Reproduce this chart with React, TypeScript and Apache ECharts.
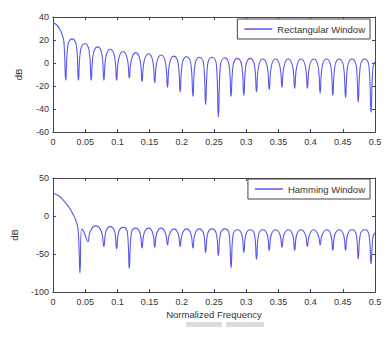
import React, { useEffect, useRef } from "react";
import * as echarts from "echarts";

// Normalized frequency ticks
const xMin = 0;
const xMax = 0.5;
const xStep = 0.05;

// Top panel: rectangular window
const rectFreq = [
  0, 0.005, 0.01, 0.014, 0.017,
  0.0198, 0.0228, 0.0297, 0.0366,
  0.0395, 0.0425, 0.0494, 0.0563,
  0.0593, 0.0623, 0.0692, 0.0761,
  0.079, 0.082, 0.0889, 0.0958,
  0.0988, 0.1018, 0.1087, 0.1156,
  0.1185, 0.1215, 0.1284, 0.1353,
  0.1383, 0.1413, 0.1482, 0.1551,
  0.158, 0.161, 0.1679, 0.1748,
  0.1778, 0.1808, 0.1877, 0.1946,
  0.1975, 0.2005, 0.2074, 0.2143,
  0.2173, 0.2203, 0.2272, 0.2341,
  0.237, 0.24, 0.2469, 0.2538,
  0.2568, 0.2598, 0.2667, 0.2736,
  0.2765, 0.2795, 0.2864, 0.2933,
  0.2963, 0.2993, 0.3062, 0.3131,
  0.316, 0.319, 0.3259, 0.3328,
  0.3358, 0.3388, 0.3457, 0.3526,
  0.3555, 0.3585, 0.3654, 0.3723,
  0.3753, 0.3783, 0.3852, 0.3921,
  0.395, 0.398, 0.4049, 0.4118,
  0.4148, 0.4178, 0.4247, 0.4316,
  0.4345, 0.4375, 0.4444, 0.4513,
  0.4543, 0.4573, 0.4642, 0.4711,
  0.474, 0.477, 0.4839, 0.4908,
  0.4938, 0.4968, 0.5,
];
const rectDb = [
  35, 33.5, 30, 25, 18,
  -15, 14, 21, 14,
  -15, 10, 17, 10,
  -15, 7, 14, 7,
  -15, 5, 12, 5,
  -15, 3, 10, 3,
  -13, 2, 9, 2,
  -16, 1, 8, 1,
  -17, 0, 7, 0,
  -21, -1, 6, -1,
  -25, -1.5, 5.5, -1.5,
  -29, -2, 5, -2,
  -36, -2, 5, -2,
  -47, -2.5, 4.5, -2.5,
  -29, -3, 4, -3,
  -28, -3, 4, -3,
  -25, -3.5, 3.5, -3.5,
  -23, -3.5, 3.5, -3.5,
  -21, -3.5, 3.5, -3.5,
  -22, -3.5, 3.5, -3.5,
  -22, -3.5, 3.5, -3.5,
  -26, -3.5, 3.5, -3.5,
  -28, -3.5, 3.5, -3.5,
  -30, -3.5, 3.5, -3.5,
  -34, -3.5, 3.5, -3.5,
  -43, -4, 1,
];

// Bottom panel: Hamming window
const hammFreq = [
  0, 0.008, 0.017, 0.026, 0.03, 0.035, 0.039, 0.0419, 0.0445, 0.049,
  0.054, 0.058, 0.066, 0.075,
  0.079, 0.082, 0.0889, 0.0958,
  0.0988, 0.1018, 0.1087, 0.1156,
  0.1185, 0.1215, 0.1284, 0.1353,
  0.1383, 0.1413, 0.1482, 0.1551,
  0.158, 0.161, 0.1679, 0.1748,
  0.1778, 0.1808, 0.1877, 0.1946,
  0.1975, 0.2005, 0.2074, 0.2143,
  0.2173, 0.2203, 0.2272, 0.2341,
  0.237, 0.24, 0.2469, 0.2538,
  0.2568, 0.2598, 0.2667, 0.2736,
  0.2765, 0.2795, 0.2864, 0.2933,
  0.2963, 0.2993, 0.3062, 0.3131,
  0.316, 0.319, 0.3259, 0.3328,
  0.3358, 0.3388, 0.3457, 0.3526,
  0.3555, 0.3585, 0.3654, 0.3723,
  0.3753, 0.3783, 0.3852, 0.3921,
  0.395, 0.398, 0.4049, 0.4118,
  0.4148, 0.4178, 0.4247, 0.4316,
  0.4345, 0.4375, 0.4444, 0.4513,
  0.4543, 0.4573, 0.4642, 0.4711,
  0.474, 0.477, 0.4839, 0.4908,
  0.4938, 0.4968, 0.5,
];
const hammDb = [
  30, 27, 20, 10, 4, -5, -18, -75, -17, -23,
  -34, -20, -13, -20,
  -40, -21, -14, -21,
  -43, -22, -15, -22,
  -69, -23, -16, -23,
  -42, -23, -16, -23,
  -41, -23, -16, -23,
  -38, -24, -17, -24,
  -40, -24, -17, -24,
  -42, -24, -17, -24,
  -48, -24, -17, -24,
  -52, -24, -17, -24,
  -68, -25, -18, -25,
  -48, -25, -18, -25,
  -57, -25, -18, -25,
  -45, -25, -18, -25,
  -41, -25, -18, -25,
  -45, -25, -18, -25,
  -40, -25, -18, -25,
  -38, -25, -18, -25,
  -45, -25, -18, -25,
  -45, -25, -18, -25,
  -56, -25, -18, -25,
  -63, -28, -22,
];

const topY = { min: -60, max: 40, interval: 20 };
const botY = { min: -100, max: 50, interval: 50 };

const seriesNames = ["Rectangular Window", "Hamming Window"];
const xName = "Normalized Frequency";
const yName = "dB";

const FONT = "Liberation Sans";
const AXIS = "#444";
const TEXT = "#333";
const LINE = "#5858ec";

export default function App() {
  const ref = useRef<HTMLDivElement>(null);
  useEffect(() => {
    if (!ref.current) return;
    const chart = echarts.init(ref.current, undefined, { renderer: "svg" });
    const axisLine = { show: true, onZero: false, lineStyle: { color: AXIS, width: 1 } };
    const tick = { show: true, inside: true, length: 3, lineStyle: { color: AXIS } };
    const label = { color: TEXT, fontSize: 9, fontFamily: FONT };
    const xBase = (grid: number, pos: string, showLabel: boolean, name?: string) => ({
      type: "value",
      gridIndex: grid,
      position: pos,
      min: xMin,
      max: xMax,
      interval: xStep,
      axisLine,
      axisTick: tick,
      axisLabel: { ...label, show: showLabel, margin: 5 },
      splitLine: { show: false },
      name: name || "",
      nameLocation: "middle",
      nameGap: 17,
      nameTextStyle: { color: TEXT, fontSize: 9.5, fontFamily: FONT },
    });
    const yBase = (grid: number, pos: string, showLabel: boolean, rng: any, gap: number) => ({
      type: "value",
      gridIndex: grid,
      position: pos,
      min: rng.min,
      max: rng.max,
      interval: rng.interval,
      axisLine,
      axisTick: tick,
      axisLabel: { ...label, show: showLabel, margin: 4 },
      splitLine: { show: false },
      name: showLabel ? yName : "",
      nameLocation: "middle",
      nameGap: gap,
      nameTextStyle: { color: TEXT, fontSize: 9.5, fontFamily: FONT },
    });
    const legendBase = (name: string, top: number) => ({
      data: [{ name, icon: "rect" }],
      right: 17,
      top,
      orient: "horizontal",
      backgroundColor: "#fff",
      borderColor: AXIS,
      borderWidth: 1,
      padding: [5, 5, 5, 7],
      itemWidth: 28,
      itemHeight: 1.5,
      textStyle: { color: TEXT, fontSize: 9.5, fontFamily: FONT },
    });
    chart.setOption({
      animation: false,
      backgroundColor: "#fff",
      grid: [
        { left: 53, top: 17, width: 322, height: 115 },
        { left: 53, top: 178, width: 322, height: 114 },
      ],
      xAxis: [
        xBase(0, "bottom", true),
        xBase(0, "top", false),
        xBase(1, "bottom", true, xName),
        xBase(1, "top", false),
      ],
      yAxis: [
        yBase(0, "left", true, topY, 30),
        yBase(0, "right", false, topY, 30),
        yBase(1, "left", true, botY, 34),
        yBase(1, "right", false, botY, 34),
      ],
      legend: [legendBase(seriesNames[0], 19), legendBase(seriesNames[1], 179)],
      series: [
        {
          name: seriesNames[0],
          type: "line",
          xAxisIndex: 0,
          yAxisIndex: 0,
          symbol: "none",
          smooth: 0.5,
          lineStyle: { color: LINE, width: 1.1 },
          itemStyle: { color: LINE },
          data: rectFreq.map((f, i) => [f, rectDb[i]]),
        },
        {
          name: seriesNames[1],
          type: "line",
          xAxisIndex: 2,
          yAxisIndex: 2,
          symbol: "none",
          smooth: 0.5,
          lineStyle: { color: LINE, width: 1.1 },
          itemStyle: { color: LINE },
          data: hammFreq.map((f, i) => [f, hammDb[i]]),
        },
      ],
      graphic: [
        { type: "rect", left: 186, top: 322, shape: { width: 36, height: 5 }, style: { fill: "#dcdcdc" } },
        { type: "rect", left: 226, top: 322, shape: { width: 38, height: 5 }, style: { fill: "#dcdcdc" } },
      ],
    } as any);
    return () => chart.dispose();
  }, []);
  return (
    <div
      ref={ref}
      style={{ position: "absolute", left: 0, top: 0, width: 387, height: 355 }}
    />
  );
}
